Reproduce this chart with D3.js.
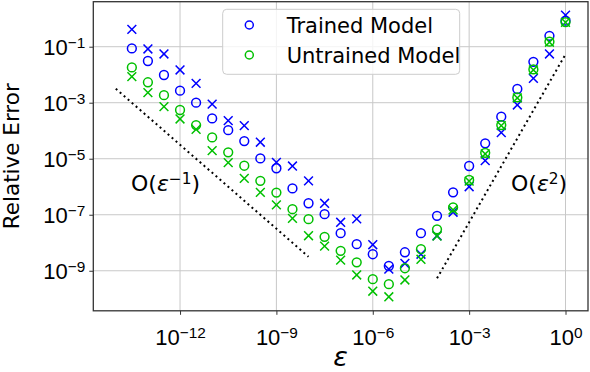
<!DOCTYPE html>
<html>
<head>
<meta charset="utf-8">
<script src="https://cdn.jsdelivr.net/npm/d3@7"></script>
<style>
  body { margin: 0; background: #fff; }
  svg { display: block; font-family: "DejaVu Sans", sans-serif; }
</style>
</head>
<body>
<svg width="590" height="372"></svg>
<script>
// log10(epsilon) of each sample
const epsExp = [-13.5, -13, -12.5, -12, -11.5, -11, -10.5, -10, -9.5, -9, -8.5, -8, -7.5, -7,
                -6.5, -6, -5.5, -5, -4.5, -4, -3.5, -3, -2.5, -2, -1.5, -1, -0.5, 0];

// log10(relative error)
const trainedCircle = [-1.06, -1.51, -2.01, -2.57, -3.00, -3.56, -3.98, -4.37, -4.99, -5.34, -6.06, -6.59, -6.98, -7.66,
                       -8.05, -8.41, -8.83, -8.34, -7.66, -7.04, -6.20, -5.26, -4.45, -3.50, -2.51, -1.54, -0.61, -0.07];
const trainedCross = [-0.38, -1.08, -1.26, -1.83, -2.31, -3.05, -3.64, -3.82, -4.41, -5.13, -5.26, -5.79, -6.59, -7.27,
                      -7.15, -8.07, -8.94, -8.74, -8.41, -7.75, -6.91, -6.00, -5.07, -4.07, -3.08, -2.13, -1.26, 0.13];
const untrainedCircle = [-1.74, -2.27, -2.73, -3.26, -3.80, -4.24, -4.77, -5.25, -5.79, -6.21, -6.80, -7.16, -7.79, -8.29,
                         -8.70, -9.30, -9.48, -8.91, -8.23, -7.52, -6.74, -5.76, -4.79, -3.80, -2.81, -1.81, -0.82, -0.12];
const untrainedCross = [-2.07, -2.64, -3.14, -3.58, -3.95, -4.71, -5.14, -5.70, -6.20, -6.65, -7.13, -7.75, -8.12, -8.62,
                        -9.15, -9.73, -9.93, -9.33, -8.59, -7.76, -6.83, -5.80, -4.83, -3.82, -2.83, -1.83, -0.84, -0.13];

// reference slopes: [x0, y0, x1, y1] in log10 units
const slopeInv = [-14, -2.5, -8, -8.5];
const slopeSq = [-4, -9.27, 0, -1.27];

const xTickExp = [-12, -9, -6, -3, 0];
const yTickExp = [-9, -7, -5, -3, -1];
const legendLabels = ["Trained Model", "Untrained Model"];

const blue = "#0000ff", green = "#00c000";

const svg = d3.select("svg");
const pLeft = 93.3, pRight = 588, pTop = 1.7, pBottom = 310.8;

const x = d3.scaleLog().domain([Math.pow(10, -14.7), Math.pow(10, 0.7)]).range([pLeft, pRight]);
const y = d3.scaleLog().domain([Math.pow(10, -10.43), Math.pow(10, 0.607)]).range([pBottom, pTop]);

// grid
const grid = svg.append("g");
grid.selectAll(".gx").data(xTickExp).enter().append("line")
    .attr("x1", d => x(Math.pow(10, d))).attr("x2", d => x(Math.pow(10, d)))
    .attr("y1", pTop).attr("y2", pBottom)
    .attr("stroke", "#c8c8c8").attr("stroke-width", 1);
grid.selectAll(".gy").data(yTickExp).enter().append("line")
    .attr("y1", d => y(Math.pow(10, d))).attr("y2", d => y(Math.pow(10, d)))
    .attr("x1", pLeft).attr("x2", pRight)
    .attr("stroke", "#c8c8c8").attr("stroke-width", 1);

// axes
const xAxis = d3.axisBottom(x).tickValues(xTickExp.map(e => Math.pow(10, e))).tickSize(4).tickPadding(4).tickFormat("");
const yAxis = d3.axisLeft(y).tickValues(yTickExp.map(e => Math.pow(10, e))).tickSize(4).tickPadding(4).tickFormat("");

const gx = svg.append("g").attr("transform", `translate(0,${pBottom})`).call(xAxis);
const gy = svg.append("g").attr("transform", `translate(${pLeft},0)`).call(yAxis);
gx.select(".domain").remove();
gy.select(".domain").remove();
svg.selectAll(".tick line").attr("stroke", "#333").attr("stroke-width", 1);

function powLabel(sel, exp) {
    sel.append("tspan").text("10");
    sel.append("tspan").attr("dy", "-0.45em").attr("font-size", "70%")
        .text(exp < 0 ? "\u2212" + (-exp) : String(exp));
}

gx.selectAll(".tick").each(function(d) {
    const t = d3.select(this).append("text")
        .attr("y", 34).attr("fill", "#000").attr("font-size", 22).attr("text-anchor", "middle");
    powLabel(t, Math.round(Math.log10(d)));
});
gy.selectAll(".tick").each(function(d) {
    const t = d3.select(this).append("text")
        .attr("x", -8).attr("dy", "0.35em").attr("fill", "#000").attr("font-size", 22).attr("text-anchor", "end");
    powLabel(t, Math.round(Math.log10(d)));
});

// slope guides
const line = d3.line().x(d => x(Math.pow(10, d[0]))).y(d => y(Math.pow(10, d[1])));
[slopeInv, slopeSq].forEach(s => {
    svg.append("path").attr("d", line([[s[0], s[1]], [s[2], s[3]]]))
        .attr("fill", "none").attr("stroke", "#000").attr("stroke-width", 2)
        .attr("stroke-dasharray", "2 3.3");
});

// markers
const pts = arr => arr.map((v, i) => ({ x: x(Math.pow(10, epsExp[i])), y: y(Math.pow(10, v)) }));

function drawCircles(arr, color) {
    svg.append("g").selectAll("circle").data(pts(arr)).enter().append("circle")
        .attr("cx", d => d.x).attr("cy", d => d.y).attr("r", 4.4)
        .attr("fill", "none").attr("stroke", color).attr("stroke-width", 1.5);
}
function drawCrosses(arr, color) {
    const s = 4.4;
    svg.append("g").selectAll("path").data(pts(arr)).enter().append("path")
        .attr("d", d => `M${d.x - s},${d.y - s}L${d.x + s},${d.y + s}M${d.x - s},${d.y + s}L${d.x + s},${d.y - s}`)
        .attr("fill", "none").attr("stroke", color).attr("stroke-width", 1.5);
}
drawCircles(trainedCircle, blue);
drawCrosses(trainedCross, blue);
drawCircles(untrainedCircle, green);
drawCrosses(untrainedCross, green);

// frame
svg.append("rect").attr("x", pLeft).attr("y", pTop).attr("width", pRight - pLeft).attr("height", pBottom - pTop)
    .attr("fill", "none").attr("stroke", "#333").attr("stroke-width", 1.3);

// annotations
function orderText(xp, yp, sup) {
    const t = svg.append("text").attr("x", xp).attr("y", yp).attr("font-size", 22).attr("fill", "#000");
    t.append("tspan").text("O(");
    t.append("tspan").attr("font-style", "italic").text("\u03b5");
    t.append("tspan").attr("dy", "-0.45em").attr("font-size", "70%").text(sup);
    t.append("tspan").attr("dy", "0.315em").text(")");
}
orderText(131, 191, "\u22121");
orderText(511, 191, "2");

// axis labels
svg.append("text").attr("x", (pLeft + pRight) / 2).attr("y", 366).attr("text-anchor", "middle")
    .attr("font-size", 27).attr("font-style", "italic").text("\u03b5");
svg.append("text").attr("transform", `translate(19,${(pTop + pBottom) / 2}) rotate(-90)`)
    .attr("text-anchor", "middle").attr("font-size", 21.5).text("Relative Error");

// legend
const lg = svg.append("g");
lg.append("rect").attr("x", 222.7).attr("y", 9.3).attr("width", 237).attr("height", 65).attr("rx", 4)
    .attr("fill", "#fff").attr("fill-opacity", 0.8).attr("stroke", "#cccccc").attr("stroke-width", 1);
legendLabels.forEach((lab, i) => {
    const cy = 25 + i * 30;
    lg.append("circle").attr("cx", 249.3).attr("cy", cy).attr("r", 4)
        .attr("fill", "none").attr("stroke", i === 0 ? blue : green).attr("stroke-width", 1.5);
    lg.append("text").attr("x", 286.7).attr("y", cy + 8).attr("font-size", 21).text(lab);
});
</script>
</body>
</html>
